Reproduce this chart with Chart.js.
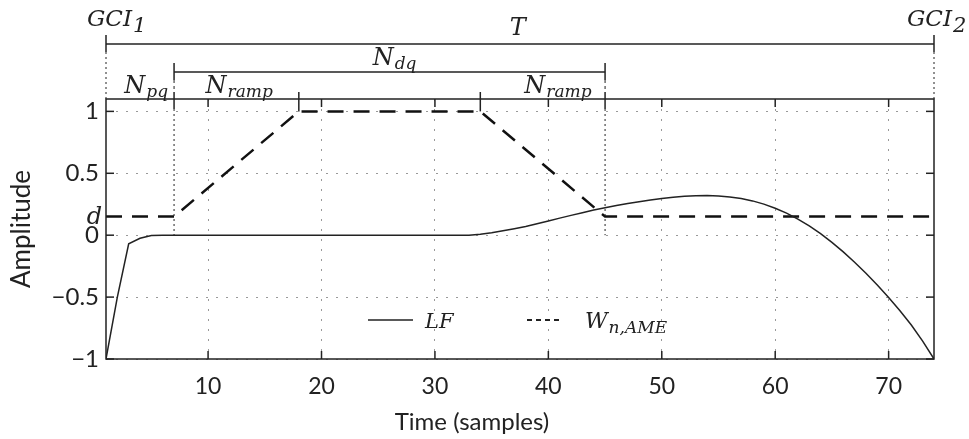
<!DOCTYPE html>
<html>
<head>
<meta charset="utf-8">
<script src="https://cdn.jsdelivr.net/npm/chart.js@4.4.1/dist/chart.umd.min.js"></script>
<style>
  html, body { margin: 0; padding: 0; background: #fff; }
  #wrap { width: 969px; height: 439px; }
</style>
</head>
<body>
<div id="wrap"><canvas id="lfPlot" width="969" height="439"></canvas></div>
<script>
// LF pulse between two glottal closures, one value per sample
const lfValues = [
  -1, -0.5, -0.07, -0.025, -0.002, 0, 0, 0, 0, 0,
  0, 0, 0, 0, 0, 0, 0, 0, 0, 0,
  0, 0, 0, 0, 0, 0, 0, 0, 0, 0,
  0, 0, 0, 0.008, 0.02, 0.035, 0.052, 0.07, 0.092, 0.115,
  0.138, 0.16, 0.182, 0.203, 0.222, 0.24, 0.256, 0.27, 0.284, 0.296,
  0.306, 0.314, 0.319, 0.32, 0.317, 0.309, 0.296, 0.277, 0.251, 0.218,
  0.178, 0.13, 0.075, 0.012, -0.058, -0.135, -0.218, -0.307, -0.402, -0.503,
  -0.61, -0.725, -0.855, -1
];
const sampleIdx = lfValues.map((v, i) => i + 1);

// weighting window W_n,AME: floor d, ramps up/down between the marks
const dLevel = 0.15;
const winX = [1, 7, 18, 34, 45, 74];
const winY = [dLevel, dLevel, 1, 1, dLevel, dLevel];

// segment marks above the axes
const gciMarks = [1, 74];
const dqMarks = [7, 45];
const rampTops = [18, 34];

const yTicks = [-1, -0.5, 0, 0.5, 1];

const ink = '#222';
const tickFont = { family: 'Lato', size: 23 };
const serif = "'DejaVu Serif'";

function subText(ctx, x, y, main, sub, mainPx, subPx, drop, align) {
  ctx.font = `italic ${mainPx}px ${serif}`;
  const mw = ctx.measureText(main).width;
  ctx.font = `italic ${subPx}px ${serif}`;
  const sw = ctx.measureText(sub).width;
  let sx = x;
  if (align === 'center') sx = x - (mw + sw) / 2;
  ctx.textAlign = 'left';
  ctx.textBaseline = 'alphabetic';
  ctx.font = `italic ${mainPx}px ${serif}`;
  ctx.fillText(main, sx, y);
  ctx.font = `italic ${subPx}px ${serif}`;
  ctx.fillText(sub, sx + mw + 1, y + drop);
}

function vline(ctx, x, y0, y1, dash) {
  ctx.setLineDash(dash || []);
  ctx.beginPath();
  ctx.moveTo(x, y0);
  ctx.lineTo(x, y1);
  ctx.stroke();
}

function hline(ctx, x0, x1, y) {
  ctx.setLineDash([]);
  ctx.beginPath();
  ctx.moveTo(x0, y);
  ctx.lineTo(x1, y);
  ctx.stroke();
}

const framePlugin = {
  id: 'frame',
  afterDraw(chart) {
    const ctx = chart.ctx;
    const xs = chart.scales.x, ys = chart.scales.y;
    const { left, right, top, bottom } = chart.chartArea;
    ctx.save();
    ctx.strokeStyle = ink;
    ctx.fillStyle = ink;
    ctx.lineWidth = 1.5;

    // box
    ctx.setLineDash([]);
    ctx.strokeRect(left, top, right - left, bottom - top);

    // inward ticks on all four sides
    xs.ticks.forEach(t => {
      const px = xs.getPixelForValue(t.value);
      vline(ctx, px, bottom, bottom - 8);
      vline(ctx, px, top, top + 8);
    });
    ys.ticks.forEach(t => {
      const py = ys.getPixelForValue(t.value);
      hline(ctx, left, left + 8, py);
      hline(ctx, right, right - 8, py);
    });

    // GCI marks and the T span
    const yT = top - 55;
    gciMarks.forEach(m => {
      const px = xs.getPixelForValue(m);
      vline(ctx, px, yT - 9, yT + 8);
      ctx.lineWidth = 1;
      vline(ctx, px, yT + 8, top, [2, 3]);
      ctx.lineWidth = 1.5;
    });
    hline(ctx, xs.getPixelForValue(gciMarks[0]), xs.getPixelForValue(gciMarks[1]), yT);

    // N_dq span and its dotted drops to zero
    const yDq = top - 27;
    const zeroPx = ys.getPixelForValue(0);
    dqMarks.forEach(m => {
      const px = xs.getPixelForValue(m);
      vline(ctx, px, yDq - 9, yDq + 8);
      vline(ctx, px, top - 7, top + 10);
      ctx.lineWidth = 1;
      vline(ctx, px, yDq + 8, top - 7, [3, 3]);
      vline(ctx, px, top + 10, zeroPx, [2, 3]);
      ctx.lineWidth = 1.5;
    });
    hline(ctx, xs.getPixelForValue(dqMarks[0]), xs.getPixelForValue(dqMarks[1]), yDq);

    // ramp end marks
    rampTops.forEach(m => {
      const px = xs.getPixelForValue(m);
      vline(ctx, px, top - 7, ys.getPixelForValue(1));
    });
    ctx.setLineDash([]);

    // labels
    subText(ctx, xs.getPixelForValue(gciMarks[0]) - 19, top - 73, 'GCI', '1', 23, 21, 6, 'left');
    subText(ctx, xs.getPixelForValue(gciMarks[1]) - 27, top - 73, 'GCI', '2', 23, 21, 6, 'left');
    ctx.font = `italic 24px ${serif}`;
    ctx.textAlign = 'center';
    ctx.fillText('T', xs.getPixelForValue(37.3), top - 64);
    subText(ctx, xs.getPixelForValue(4.5), top - 6, 'N', 'pq', 24, 17, 4, 'center');
    subText(ctx, xs.getPixelForValue(12.7), top - 6, 'N', 'ramp', 24, 17, 4, 'center');
    subText(ctx, xs.getPixelForValue(40.8), top - 6, 'N', 'ramp', 24, 17, 4, 'center');
    subText(ctx, xs.getPixelForValue(26.4), top - 34, 'N', 'dq', 24, 17, 4, 'center');

    // d level next to the y ticks
    ctx.font = `italic 24px ${serif}`;
    ctx.textAlign = 'right';
    ctx.fillText('d', left - 4, ys.getPixelForValue(dLevel) + 7);

    // legend inside the plot
    const ly = bottom - 39;
    ctx.lineWidth = 1.5;
    hline(ctx, left + 262, left + 307, ly);
    subText(ctx, left + 319, ly + 8, 'LF', '', 21, 16, 5, 'left');
    ctx.lineWidth = 2;
    ctx.setLineDash([5, 4]);
    ctx.beginPath();
    ctx.moveTo(left + 421, ly);
    ctx.lineTo(left + 455, ly);
    ctx.stroke();
    ctx.setLineDash([]);
    subText(ctx, left + 479, ly + 8, 'W', 'n,AME', 22, 17, 5, 'left');

    // x axis title
    ctx.font = '24px Lato';
    ctx.textAlign = 'center';
    ctx.textBaseline = 'middle';
    ctx.fillStyle = ink;
    ctx.fillText('Time (samples)', left + 366, bottom + 63);
    ctx.restore();
  }
};

new Chart(document.getElementById('lfPlot'), {
  type: 'line',
  data: {
    datasets: [
      {
        label: 'LF',
        data: sampleIdx.map((x, i) => ({ x: x, y: lfValues[i] })),
        borderColor: ink,
        borderWidth: 1.5,
        pointRadius: 0,
        tension: 0,
      },
      {
        label: 'W_n,AME',
        data: winX.map((x, i) => ({ x: x, y: winY[i] })),
        borderColor: '#111',
        borderWidth: 2.5,
        borderDash: [16, 10],
        pointRadius: 0,
        tension: 0,
      },
    ],
  },
  options: {
    responsive: false,
    animation: false,
    layout: { padding: { top: 99, right: 35, left: 0, bottom: 0 } },
    plugins: {
      legend: { display: false },
      tooltip: { enabled: false },
    },
    scales: {
      x: {
        type: 'linear',
        min: 1,
        max: 74,
        ticks: {
          stepSize: 10,
          includeBounds: false,
          padding: 14,
          maxRotation: 0,
          color: ink,
          font: tickFont,
        },
        grid: { color: '#999', lineWidth: 1, drawTicks: false },
        border: { display: false, dash: [2, 8] },
        afterFit(scale) { scale.height = 80; },
      },
      y: {
        min: -1,
        max: 1.1,
        afterBuildTicks(scale) {
          scale.ticks = yTicks.map(v => ({ value: v }));
        },
        ticks: {
          padding: 7,
          color: ink,
          font: { family: 'Lato', size: 24 },
          callback: v => (v < 0 ? '\u2212' + Math.abs(v) : String(v)),
        },
        grid: { color: '#999', lineWidth: 1, drawTicks: false },
        border: { display: false, dash: [2, 8] },
        title: {
          display: true,
          text: 'Amplitude',
          color: ink,
          font: { family: 'Lato', size: 26 },
          padding: { top: 6, bottom: 0 },
        },
        afterFit(scale) { scale.width = 106; },
      },
    },
  },
  plugins: [framePlugin],
});
</script>
</body>
</html>
